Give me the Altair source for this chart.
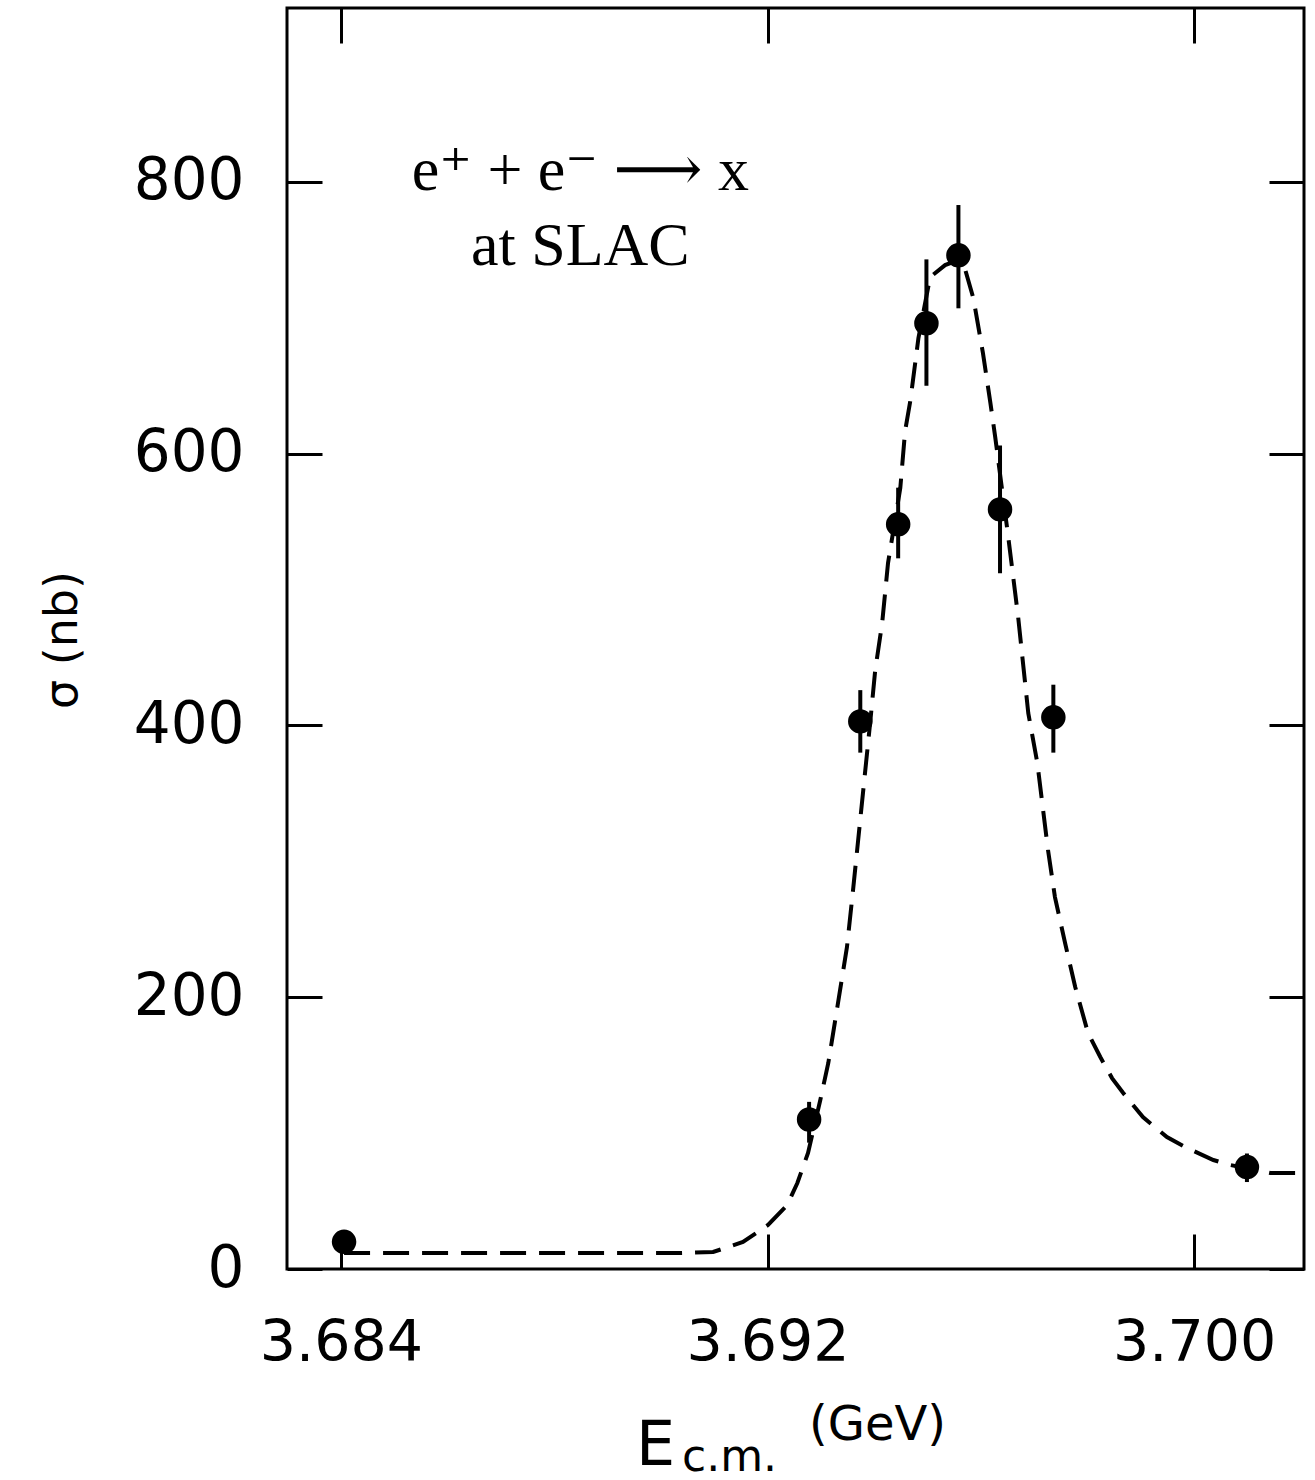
import altair as alt
import pandas as pd

# ---- data ----
energy = [3.68406, 3.69278, 3.69374, 3.69445, 3.69498, 3.69558, 3.69636, 3.69736, 3.70099]
sigma = [20, 110, 403, 548, 696, 746, 559, 406, 75]
sigma_lo = [20, 93, 380, 523, 650, 707, 512, 380, 64]
sigma_hi = [20, 123, 426, 575, 743, 783, 606, 430, 85]

curve_e = [3.68406, 3.69036, 3.69098, 3.69154, 3.69201, 3.69237, 3.69256, 3.69276,
           3.69299, 3.69314, 3.69331, 3.69349, 3.69361, 3.69393, 3.69402, 3.69415,
           3.69426, 3.69449, 3.69458, 3.69468, 3.69483, 3.69505, 3.69533, 3.69548,
           3.69571, 3.69586, 3.69604, 3.69618, 3.69627, 3.69651, 3.69670, 3.69689,
           3.69706, 3.69726, 3.69739, 3.69758, 3.69777, 3.69801, 3.69824, 3.69846,
           3.69867, 3.69904, 3.69949, 3.69983, 3.70036, 3.70068, 3.70143, 3.70204]
curve_s = [11.8, 11.8, 12.5, 19.9, 32.4, 47.1, 63.3, 85.4,
           124.4, 151.6, 192.8, 236.9, 281.1, 404.0, 440.8, 475.4,
           519.5, 574.7, 616.6, 639.4, 685.1, 730.0, 738.8, 741.0,
           735.1, 714.5, 674.0, 637.2, 612.2, 540.1, 479.8, 409.1,
           372.3, 308.3, 273.7, 239.9, 207.5, 173.7, 156.0, 140.5,
           129.5, 111.8, 97.1, 89.8, 80.2, 76.5, 70.6, 70.6]

x_ticks = [3.684, 3.692, 3.700]
y_ticks = [0, 200, 400, 600, 800]
x_domain = [3.68299, 3.70206]
y_domain = [0, 928]

note_lines = ["e\u207a + e\u207b \u27f6 x", "at SLAC"]
note_e = [3.68849, 3.68849]
note_s = [794, 739]

pts = pd.DataFrame({"e": energy, "s": sigma, "lo": sigma_lo, "hi": sigma_hi})
crv = pd.DataFrame({"e": curve_e, "s": curve_s, "i": list(range(len(curve_e)))})
notes = pd.DataFrame({"e": note_e, "s": note_s, "t": note_lines})

xs = alt.Scale(domain=x_domain, nice=False, zero=False)
ys = alt.Scale(domain=y_domain, nice=False, zero=False)

LABEL_FONT = "DejaVu Sans"
TICK = 35

bottom_axis = alt.Axis(orient="bottom", values=x_ticks, format=".3f", offset=-TICK,
                       tickSize=TICK, tickWidth=3, tickColor="black", domain=False,
                       grid=False, labelFont=LABEL_FONT, labelFontSize=57,
                       labelFontWeight="normal", labelColor="black", labelPadding=46,
                       labelFlush=False, labelOverlap=False)
top_axis = alt.Axis(orient="top", values=x_ticks, offset=-TICK, tickSize=TICK,
                    tickWidth=3, tickColor="black", domain=False, grid=False,
                    labels=False)
left_axis = alt.Axis(orient="left", values=y_ticks, format="d", offset=-TICK,
                     tickSize=TICK, tickWidth=3, tickColor="black", domain=False,
                     grid=False, labelFont=LABEL_FONT, labelFontSize=58,
                     labelFontWeight="normal", labelColor="black", labelPadding=43,
                     labelFlush=False, labelOverlap=False)
right_axis = alt.Axis(orient="right", values=y_ticks, offset=-TICK, tickSize=TICK,
                      tickWidth=3, tickColor="black", domain=False, grid=False,
                      labels=False)

curve = alt.Chart(crv).mark_line(color="black", strokeWidth=4,
                                 strokeDash=[26, 13], clip=True).encode(
    x=alt.X("e:Q", scale=xs, axis=None),
    y=alt.Y("s:Q", scale=ys, axis=None),
    order="i:Q",
)

errbars = alt.Chart(pts).mark_rule(color="black", strokeWidth=4).encode(
    x=alt.X("e:Q", scale=xs, axis=top_axis, title=None),
    y=alt.Y("lo:Q", scale=ys, axis=right_axis, title=None),
    y2="hi:Q",
)

points = alt.Chart(pts).mark_circle(color="black", opacity=1, size=600).encode(
    x=alt.X("e:Q", scale=xs, axis=bottom_axis, title=None),
    y=alt.Y("s:Q", scale=ys, axis=left_axis, title=None),
)

note = alt.Chart(notes).mark_text(font="Liberation Serif, DejaVu Serif", fontSize=62,
                                  color="black", align="center",
                                  baseline="alphabetic").encode(
    x=alt.X("e:Q", scale=xs, axis=None),
    y=alt.Y("s:Q", scale=ys, axis=None),
    text="t:N",
)

ytitle = alt.Chart(pd.DataFrame({"t": ["\u03c3 (nb)"]})).mark_text(
    font=LABEL_FONT, fontSize=46, color="black", angle=270,
    align="center", baseline="middle").encode(
    x=alt.value(-224), y=alt.value(632), text="t:N")

xt_E = alt.Chart(pd.DataFrame({"t": ["E"]})).mark_text(
    font=LABEL_FONT, fontSize=62, color="black", align="left",
    baseline="alphabetic").encode(x=alt.value(349), y=alt.value(1457), text="t:N")
xt_cm = alt.Chart(pd.DataFrame({"t": ["c.m."]})).mark_text(
    font=LABEL_FONT, fontSize=44, color="black", align="left",
    baseline="alphabetic").encode(x=alt.value(395), y=alt.value(1463), text="t:N")
xt_gev = alt.Chart(pd.DataFrame({"t": ["(GeV)"]})).mark_text(
    font=LABEL_FONT, fontSize=48, color="black", align="left",
    baseline="alphabetic").encode(x=alt.value(522), y=alt.value(1432), text="t:N")

chart = alt.layer(points, errbars, curve, note, ytitle, xt_E, xt_cm, xt_gev).resolve_axis(
    x="independent", y="independent"
).properties(
    width=1017, height=1261,
    padding={"left": 287, "top": 8, "right": 11, "bottom": 211},
    autosize=alt.AutoSizeParams(type="none"),
    background="white",
).configure_view(stroke="black", strokeWidth=3)

chart.save("out.html", embed_options={"renderer": "svg", "actions": False})
